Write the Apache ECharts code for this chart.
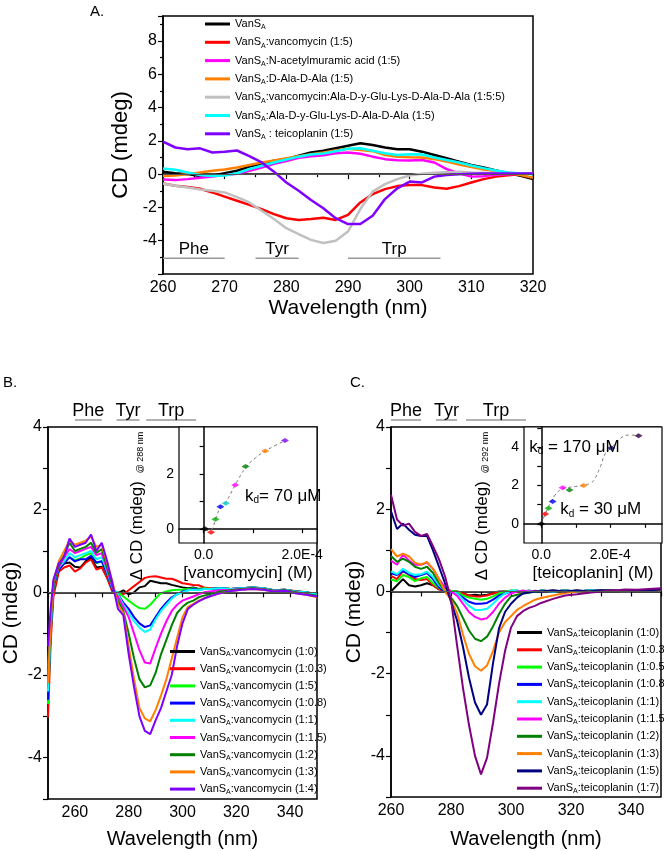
<!DOCTYPE html>
<html><head><meta charset="utf-8">
<script src="https://cdn.jsdelivr.net/npm/echarts@6/dist/echarts.min.js"></script>
<style>html,body{margin:0;padding:0;background:#fff}#c{width:664px;height:851px}</style>
</head><body><div id="c"></div>
<script>
const FONT = '"Liberation Sans", Arial, sans-serif';

// ---------- Panel A ----------
const wlA = [260,262,264,266,268,270,272,274,276,278,280,282,284,286,288,290,292,294,296,298,300,302,304,306,308,310,312,314,316,318,320];
const A_vansa   = [0.14,0.05,0.0,-0.12,-0.1,0.05,0.2,0.45,0.6,0.8,0.9,1.1,1.3,1.4,1.55,1.7,1.85,1.75,1.6,1.5,1.5,1.35,1.15,0.95,0.75,0.55,0.4,0.22,0.05,-0.1,-0.3];
const A_vanco   = [-0.56,-0.7,-0.78,-0.88,-1.1,-1.35,-1.6,-1.85,-2.1,-2.4,-2.65,-2.75,-2.7,-2.62,-2.75,-2.45,-1.7,-1.2,-0.9,-0.72,-0.66,-0.66,-0.8,-0.88,-0.72,-0.5,-0.3,-0.15,-0.07,0.0,0.04];
const A_nam     = [-0.32,-0.36,-0.3,-0.22,-0.14,-0.06,0.02,0.2,0.4,0.62,0.78,0.98,1.08,1.14,1.25,1.3,1.22,1.05,0.9,0.84,0.82,0.85,0.7,0.3,0.05,-0.15,-0.12,-0.04,0.0,0.02,0.04];
const A_dala    = [-0.12,-0.08,0.0,0.1,0.2,0.28,0.4,0.55,0.7,0.82,0.95,1.08,1.2,1.3,1.42,1.52,1.45,1.38,1.15,1.05,1.02,1.0,0.9,0.75,0.58,0.42,0.28,0.18,0.08,-0.05,-0.22];
const A_vancoPep= [-0.56,-0.7,-0.8,-0.92,-1.0,-1.1,-1.38,-1.7,-2.2,-2.7,-3.25,-3.6,-3.95,-4.14,-4.0,-3.45,-2.1,-1.05,-0.6,-0.3,-0.08,0.02,0.08,0.12,0.14,0.1,0.08,0.06,0.04,0.04,0.04];
const A_pep     = [0.34,0.26,0.1,-0.05,-0.12,-0.08,0.05,0.3,0.5,0.7,0.88,1.05,1.18,1.24,1.38,1.52,1.55,1.4,1.25,1.15,1.2,1.18,1.0,0.85,0.7,0.52,0.36,0.22,0.1,0.04,0.0];
const A_teico   = [1.95,1.6,1.5,1.55,1.3,1.35,1.42,1.08,0.7,0.15,-0.5,-1.0,-1.55,-2.05,-2.65,-3.0,-3.0,-2.5,-1.5,-0.85,-0.45,-0.5,-0.15,-0.05,0.0,0.02,0.04,0.04,0.04,0.04,0.04];
const namesA = ['VanS_A','VanS_A:vancomycin (1:5)','VanS_A:N-acetylmuramic acid (1:5)','VanS_A:D-Ala-D-Ala (1:5)','VanS_A:vancomycin:Ala-D-y-Glu-Lys-D-Ala-D-Ala (1:5:5)','VanS_A:Ala-D-y-Glu-Lys-D-Ala-D-Ala (1:5)','VanS_A : teicoplanin (1:5)'];
const colorsA = ['#000000','#ff0000','#ff00ff','#ff8000','#c0c0c0','#00ffff','#8000ff'];
const valuesA = [A_vansa,A_vanco,A_nam,A_dala,A_vancoPep,A_pep,A_teico];

// ---------- Panel B ----------
const wlB = [250,251,252,254,256,258,260,262,264,266,268,270,272,274,276,278,280,282,284,286,288,290,292,294,296,298,300,302,304,306,308,310,314,318,322,326,330,334,338,342,346,350];
const B_r0   = [-2.6,-1.0,0.0,0.55,0.7,0.72,0.62,0.6,0.75,0.85,0.6,0.62,0.35,0.05,-0.02,0.05,-0.05,0.0,0.12,0.15,0.28,0.25,0.22,0.22,0.18,0.15,0.12,0.1,0.12,0.08,0.1,0.08,0.1,0.08,0.1,0.12,0.08,0.05,0.06,0.02,0.0,-0.05];
const B_r03  = [-3.03,-1.2,-0.1,0.5,0.6,0.65,0.5,0.58,0.72,0.8,0.55,0.6,0.35,0.0,-0.05,-0.05,0.05,0.15,0.25,0.35,0.38,0.39,0.36,0.33,0.33,0.28,0.22,0.2,0.18,0.17,0.12,0.1,0.1,0.08,0.1,0.12,0.1,0.05,0.06,0.03,0.0,-0.05];
const B_r05  = [-2.7,-1.0,0.1,0.6,0.75,0.85,0.78,0.82,0.9,0.95,0.7,0.75,0.45,0.05,0.0,-0.1,-0.2,-0.3,-0.38,-0.4,-0.3,-0.15,-0.02,0.02,0.05,0.06,0.06,0.08,0.1,0.08,0.1,0.08,0.1,0.08,0.1,0.12,0.1,0.05,0.06,0.02,0.0,-0.05];
const B_r08  = [-2.6,-0.9,0.15,0.55,0.7,0.85,0.75,0.8,0.8,0.88,0.72,0.75,0.45,0.05,-0.05,-0.25,-0.4,-0.6,-0.75,-0.84,-0.8,-0.6,-0.4,-0.25,-0.12,-0.05,0.02,0.05,0.08,0.06,0.08,0.08,0.1,0.08,0.1,0.12,0.1,0.05,0.06,0.02,0.0,-0.06];
const B_r1   = [-2.4,-0.8,0.2,0.6,0.75,0.95,0.85,0.9,0.95,1.0,0.8,0.85,0.5,0.1,-0.05,-0.3,-0.5,-0.7,-0.85,-0.96,-0.9,-0.65,-0.45,-0.3,-0.15,-0.05,0.0,0.05,0.06,0.05,0.08,0.08,0.1,0.08,0.1,0.12,0.1,0.05,0.06,0.02,0.0,-0.06];
const B_r15  = [-1.8,-0.6,0.25,0.6,0.85,1.05,0.95,1.0,1.05,1.1,0.9,0.95,0.55,0.1,-0.1,-0.35,-0.6,-1.0,-1.4,-1.7,-1.72,-1.35,-1.0,-0.7,-0.45,-0.3,-0.2,-0.15,-0.1,-0.05,0.0,0.02,0.05,0.06,0.08,0.1,0.08,0.04,0.05,0.0,-0.04,-0.1];
const B_r2   = [-2.0,-0.7,0.2,0.65,0.9,1.2,1.0,1.05,1.1,1.2,0.95,1.05,0.6,0.15,-0.2,-0.45,-1.0,-1.6,-2.1,-2.3,-2.25,-1.95,-1.5,-1.15,-0.8,-0.5,-0.35,-0.25,-0.2,-0.12,-0.08,-0.05,0.02,0.05,0.08,0.1,0.08,0.04,0.05,0.0,-0.04,-0.08];
const B_r3   = [-2.2,-0.7,0.25,0.75,1.0,1.25,1.15,1.2,1.25,1.35,1.1,1.15,0.7,0.25,-0.3,-0.5,-1.3,-2.1,-2.8,-3.05,-3.12,-2.85,-2.5,-2.1,-1.6,-1.1,-0.6,-0.35,-0.28,-0.2,-0.15,-0.1,-0.02,0.03,0.06,0.08,0.06,0.02,0.03,-0.02,-0.06,-0.12];
const B_r4   = [-1.3,-0.4,0.3,0.7,0.85,1.3,1.1,1.15,1.2,1.4,1.0,1.2,0.75,0.2,-0.4,-0.55,-1.5,-2.3,-3.0,-3.35,-3.43,-3.1,-2.8,-2.4,-2.0,-1.3,-0.75,-0.4,-0.3,-0.22,-0.15,-0.1,-0.02,0.03,0.06,0.08,0.06,0.02,0.04,-0.02,-0.06,-0.1];
const namesB = ['VanS_A:vancomycin (1:0)','VanS_A:vancomycin (1:0.3)','VanS_A:vancomycin (1:5)','VanS_A:vancomycin (1:0.8)','VanS_A:vancomycin (1:1)','VanS_A:vancomycin (1:1.5)','VanS_A:vancomycin (1:2)','VanS_A:vancomycin (1:3)','VanS_A:vancomycin (1:4)'];
const colorsB = ['#000000','#ff0000','#00ff00','#0000ff','#00ffff','#ff00ff','#008000','#ff8000','#8000ff'];
const valuesB = [B_r0,B_r03,B_r05,B_r08,B_r1,B_r15,B_r2,B_r3,B_r4];

// Inset B
const vancoConc = [0.26e-5,1.5e-5,2.4e-5,3.4e-5,4.5e-5,6.4e-5,8.5e-5,1.25e-4,1.65e-4];
const vancoDCD  = [0.02,-0.11,0.36,0.81,0.94,1.6,2.27,2.83,3.21];
const vancoFitX = [0.3e-5,1.5e-5,2.4e-5,3.4e-5,4.5e-5,6.4e-5,8.5e-5,1.05e-4,1.25e-4,1.45e-4,1.65e-4];
const vancoFitY = [-0.05,-0.02,0.35,0.78,0.98,1.6,2.22,2.58,2.83,3.03,3.2];

// ---------- Panel C ----------
const wlC = [260,262,264,266,268,270,272,274,276,278,280,282,284,286,288,290,292,294,296,298,300,302,304,306,308,310,314,318,322,326,330,334,338,342,346,350];
const C_r0  = [0.0,0.15,0.3,0.15,0.12,0.15,0.2,0.15,0.05,0.02,0.0,0.0,-0.05,-0.1,-0.08,-0.1,-0.08,-0.05,0.0,0.0,0.02,0.0,0.02,0.0,0.0,0.02,0.0,0.02,0.0,0.02,0.03,0.02,0.0,0.02,0.03,0.05];
const C_r03 = [0.38,0.3,0.5,0.4,0.3,0.28,0.3,0.15,0.05,0.02,0.0,0.0,-0.05,-0.1,-0.12,-0.12,-0.1,-0.05,-0.02,0.0,0.02,0.0,0.0,0.02,0.0,0.02,0.0,0.02,0.0,0.02,0.03,0.02,0.0,0.02,0.03,0.05];
const C_r05 = [0.29,0.25,0.4,0.35,0.25,0.32,0.35,0.2,0.08,0.05,0.02,0.0,-0.1,-0.15,-0.18,-0.2,-0.18,-0.12,-0.05,0.0,0.02,0.02,0.0,0.02,0.0,0.02,0.0,0.02,0.0,0.02,0.03,0.02,0.0,0.02,0.03,0.05];
const C_r08 = [0.44,0.4,0.5,0.42,0.35,0.4,0.45,0.3,0.1,0.0,-0.02,-0.05,-0.15,-0.25,-0.3,-0.3,-0.28,-0.2,-0.1,-0.05,0.0,0.02,0.0,0.02,0.0,0.02,0.0,0.02,0.0,0.02,0.03,0.02,0.0,0.02,0.03,0.05];
const C_r1  = [0.49,0.42,0.55,0.45,0.4,0.42,0.48,0.35,0.15,0.02,0.0,-0.05,-0.2,-0.35,-0.45,-0.45,-0.42,-0.3,-0.15,-0.05,0.02,0.02,0.0,0.02,0.0,0.02,0.0,0.02,0.0,0.02,0.03,0.02,0.0,0.02,0.03,0.05];
const C_r15 = [0.75,0.65,0.9,0.75,0.65,0.65,0.7,0.55,0.3,0.1,0.0,-0.1,-0.3,-0.5,-0.62,-0.68,-0.65,-0.5,-0.3,-0.15,-0.05,0.0,0.02,0.0,0.02,0.0,0.02,0.0,0.02,0.0,0.03,0.02,0.0,0.02,0.03,0.05];
const C_r2  = [0.86,0.72,0.8,0.72,0.6,0.55,0.6,0.45,0.2,0.0,-0.15,-0.35,-0.65,-0.95,-1.15,-1.21,-1.1,-0.85,-0.55,-0.3,-0.12,-0.08,-0.05,-0.03,0.0,0.0,0.02,0.0,0.02,0.0,0.03,0.02,0.0,0.02,0.03,0.05];
const C_r3  = [1.03,0.85,0.92,0.85,0.7,0.65,0.72,0.55,0.3,0.0,-0.2,-0.52,-1.05,-1.52,-1.82,-1.93,-1.8,-1.45,-1.0,-0.75,-0.6,-0.45,-0.36,-0.28,-0.2,-0.16,-0.1,-0.04,0.0,0.0,0.02,0.02,0.0,0.02,0.03,0.04];
const C_r5  = [1.95,1.52,1.65,1.5,1.38,1.35,1.35,1.0,0.6,0.2,-0.25,-0.7,-1.35,-2.1,-2.7,-3.0,-2.75,-1.75,-0.9,-0.5,-0.3,-0.15,-0.05,-0.02,0.0,0.0,0.02,0.0,0.02,0.0,0.03,0.02,0.0,0.02,0.03,0.05];
const C_r7  = [2.35,1.75,1.6,1.65,1.45,1.35,1.4,1.1,0.78,0.37,-0.2,-1.3,-2.35,-3.25,-4.0,-4.45,-4.05,-3.2,-2.25,-1.45,-0.88,-0.6,-0.48,-0.4,-0.35,-0.28,-0.18,-0.1,-0.07,-0.03,0.0,0.02,0.05,0.04,0.06,0.08];
const namesC = ['VanS_A:teicoplanin (1:0)','VanS_A:teicoplanin (1:0.3)','VanS_A:teicoplanin (1:0.5)','VanS_A:teicoplanin (1:0.8)','VanS_A:teicoplanin (1:1)','VanS_A:teicoplanin (1:1.5)','VanS_A:teicoplanin (1:2)','VanS_A:teicoplanin (1:3)','VanS_A:teicoplanin (1:5)','VanS_A:teicoplanin (1:7)'];
const colorsC = ['#000000','#ff0000','#00ff00','#0000ff','#00ffff','#ff00ff','#008000','#ff8000','#000080','#800080'];
const valuesC = [C_r0,C_r03,C_r05,C_r08,C_r1,C_r15,C_r2,C_r3,C_r5,C_r7];

// Inset C
const teicoConc = [0,1.16e-5,2.1e-5,3.3e-5,6.2e-5,8.2e-5,1.23e-4,2.03e-4,2.82e-4];
const teicoDCD  = [0,0.51,0.81,1.16,1.88,1.77,2.0,3.96,4.6];
const teicoPtColors = ['#000000','#ff0000','#00aa00','#0000ff','#ff00ff','#008000','#ff8000','#000080','#300040'];
const vancoPtColors = ['#000000','#ff0000','#00aa00','#0000ff','#00cccc','#ff00ff','#008000','#ff8000','#8000ff'];
const teicoFitX = [0,1e-5,2e-5,3e-5,4e-5,5e-5,6e-5,8e-5,1e-4,1.2e-4,1.4e-4,1.52e-4,1.71e-4,1.86e-4,2.03e-4,2.29e-4,2.58e-4,2.82e-4];
const teicoFitY = [0,0.45,0.85,1.2,1.5,1.7,1.82,1.9,1.95,2.0,2.1,2.26,2.96,3.67,3.96,4.46,4.63,4.6];

// Residue region annotations
const regionNames = ['Phe','Tyr','Trp'];
const regionA = [[260,270],[275,282],[290,305]];
const regionB = [[260,270],[275.5,284],[286.5,305]];
const regionC = [[260,270],[275,282],[285,305]];

// ---------- build ----------
const chart = echarts.init(document.getElementById('c'), null, {renderer:'canvas'});
function pre(p, n){ return p + '|' + n; }
function fmt(n){ return n.split('|')[1].replace('_A','{s|A}'); }
function lineSeries(name, g, wl, vals, color, w){
  return {type:'line', name:name, xAxisIndex:g, yAxisIndex:g, data: wl.map((x,i)=>[x, vals[i]]),
    symbol:'none', lineStyle:{color:color, width:w}, itemStyle:{color:color}, z:3, silent:true, animation:false};
}
const series = [];
valuesA.forEach((v,i)=>series.push(lineSeries(pre('A',namesA[i]),0,wlA,v,colorsA[i],2.5)));
valuesB.forEach((v,i)=>series.push(lineSeries(pre('B',namesB[i]),1,wlB,v,colorsB[i],2)));
valuesC.forEach((v,i)=>series.push(lineSeries(pre('C',namesC[i]),3,wlC,v,colorsC[i],2)));
// zero lines
[0,1,3].forEach(g=>{
  series.push({type:'line', xAxisIndex:g, yAxisIndex:g, data:[], silent:true,
    markLine:{silent:true, symbol:'none', label:{show:false}, lineStyle:{color:'#555', width:1, type:'solid'}, data:[{yAxis:0}]}, z:1});
});
// insets
series.push({type:'line', xAxisIndex:2, yAxisIndex:2, smooth:true, symbol:'none', silent:true,
  data: vancoFitX.map((x,i)=>[x, vancoFitY[i]]), lineStyle:{color:'#777', width:1, type:[3,3]}, z:3});
series.push({type:'scatter', xAxisIndex:2, yAxisIndex:2, symbol:'diamond', symbolSize:[8,5], silent:true,
  data: vancoConc.map((x,i)=>({value:[x, vancoDCD[i]], itemStyle:{color:vancoPtColors[i]}})), z:4});
series.push({type:'line', xAxisIndex:4, yAxisIndex:4, smooth:true, symbol:'none', silent:true,
  data: teicoFitX.map((x,i)=>[x, teicoFitY[i]]), lineStyle:{color:'#777', width:1, type:[3,3]}, z:3});
series.push({type:'scatter', xAxisIndex:4, yAxisIndex:4, symbol:'diamond', symbolSize:[8,5], silent:true,
  data: teicoConc.map((x,i)=>({value:[x, teicoDCD[i]], itemStyle:{color:teicoPtColors[i]}})), z:4});

const axLine = {show:true, lineStyle:{color:'#000', width:1.5}};
const tickStyle = {lineStyle:{color:'#000', width:1.2}};
function lbl(size, extra){ return Object.assign({color:'#000', fontFamily:FONT, fontSize:size, margin:6}, extra||{}); }

const xAxes = [
  {gridIndex:0, type:'value', min:260, max:320, interval:10, axisLine:axLine, axisTick:Object.assign({length:5},tickStyle),
   minorTick:{show:true, splitNumber:2, length:3, lineStyle:{color:'#000', width:1.2}},
   axisLabel:lbl(16), splitLine:{show:false},
   name:'Wavelength (nm)', nameLocation:'middle', nameGap:24, nameTextStyle:{fontFamily:FONT, fontSize:21, color:'#000'}},
  {gridIndex:1, type:'value', min:250, max:350, interval:10, axisLine:axLine, axisTick:Object.assign({length:5},tickStyle),
   axisLabel:lbl(16,{formatter:v=> (v%20===0 && v>250 && v<350) ? String(v) : ''}), splitLine:{show:false},
   name:'Wavelength (nm)', nameLocation:'middle', nameGap:30, nameTextStyle:{fontFamily:FONT, fontSize:20, color:'#000'}},
  {gridIndex:2, type:'value', min:-5e-5, max:2.3e-4, axisLine:axLine,
   axisTick:Object.assign({length:4, customValues:[0,1e-4,2e-4]},tickStyle),
   axisLabel:lbl(14,{customValues:[0,2e-4], formatter:v=> v===0 ? '0.0' : '2.0E-4', margin:5}), splitLine:{show:false},
   name:'[vancomycin] (M)', nameLocation:'middle', nameGap:22, nameTextStyle:{fontFamily:FONT, fontSize:17, color:'#000'}},
  {gridIndex:3, type:'value', min:260, max:350, interval:10, axisLine:axLine, axisTick:Object.assign({length:5},tickStyle),
   axisLabel:lbl(16,{formatter:v=> (v%20===0 && v<350) ? String(v) : ''}), splitLine:{show:false},
   name:'Wavelength (nm)', nameLocation:'middle', nameGap:32, nameTextStyle:{fontFamily:FONT, fontSize:20, color:'#000'}},
  {gridIndex:4, type:'value', min:-5e-5, max:3.5e-4, axisLine:axLine,
   axisTick:Object.assign({length:4, customValues:[0,1e-4,2e-4,3e-4]},tickStyle),
   axisLabel:lbl(14,{customValues:[0,2e-4], formatter:v=> v===0 ? '0.0' : '2.0E-4', margin:5}), splitLine:{show:false},
   name:'[teicoplanin] (M)', nameLocation:'middle', nameGap:22, nameTextStyle:{fontFamily:FONT, fontSize:17, color:'#000'}}
];
const yAxes = [
  {gridIndex:0, type:'value', min:-6, max:9.5, interval:2, axisLine:axLine, axisTick:Object.assign({length:5},tickStyle),
   minorTick:{show:true, splitNumber:2, length:3, lineStyle:{color:'#000', width:1.2}},
   axisLabel:lbl(16,{formatter:v=> (v%2===0 && v>-6 && v<9) ? String(v) : ''}), splitLine:{show:false},
   name:'CD (mdeg)', nameLocation:'middle', nameGap:30, nameTextStyle:{fontFamily:FONT, fontSize:22, color:'#000'}},
  {gridIndex:1, type:'value', min:-5, max:4, interval:1, axisLine:axLine, axisTick:Object.assign({length:5},tickStyle),
   axisLabel:lbl(16,{formatter:v=> (v%2===0) ? String(v) : ''}), splitLine:{show:false},
   name:'CD (mdeg)', nameLocation:'middle', nameGap:26, nameTextStyle:{fontFamily:FONT, fontSize:21, color:'#000'}},
  {gridIndex:2, type:'value', min:-0.5, max:3.7, axisLine:axLine,
   axisTick:Object.assign({length:4, customValues:[0,1,2,3]},tickStyle),
   axisLabel:lbl(14,{customValues:[0,2], margin:5}), splitLine:{show:false}},
  {gridIndex:3, type:'value', min:-5, max:4, interval:1, axisLine:axLine, axisTick:Object.assign({length:5},tickStyle),
   axisLabel:lbl(16,{formatter:v=> (v%2===0) ? String(v) : ''}), splitLine:{show:false},
   name:'CD (mdeg)', nameLocation:'middle', nameGap:26, nameTextStyle:{fontFamily:FONT, fontSize:21, color:'#000'}},
  {gridIndex:4, type:'value', min:-1, max:5.05, axisLine:axLine,
   axisTick:Object.assign({length:4, customValues:[0,1,2,3,4,5]},tickStyle),
   axisLabel:lbl(14,{customValues:[0,2,4], margin:5}), splitLine:{show:false}}
];

function legendCfg(names, p, left, top, lh, gap){
  return {data:names.map(n=>pre(p,n)), orient:'vertical', left:left, top:top, itemWidth:25, itemHeight:3,
    itemGap:gap, icon:'rect', selectedMode:false, padding:0, formatter:fmt,
    textStyle:{fontFamily:FONT, fontSize:11, color:'#000', lineHeight:lh,
      rich:{s:{fontFamily:FONT, fontSize:7, lineHeight:lh, verticalAlign:'bottom', color:'#000'}}}};
}

const option = {
  animation:false,
  backgroundColor:'#fff',
  grid:[
    {left:163, top:16, width:370, height:258, show:true, borderColor:'#000', borderWidth:1.5, backgroundColor:'transparent'},
    {left:46, top:427, width:271, height:372, show:true, borderColor:'#000', borderWidth:1.5, backgroundColor:'transparent'},
    {left:179, top:427, width:138, height:116, show:true, borderColor:'#000', borderWidth:1.2, backgroundColor:'#fff'},
    {left:391, top:427, width:271, height:370, show:true, borderColor:'#000', borderWidth:1.5, backgroundColor:'transparent'},
    {left:524, top:427, width:138, height:116, show:true, borderColor:'#000', borderWidth:1.2, backgroundColor:'#fff'}
  ],
  xAxis:xAxes, yAxis:yAxes,
  legend:[
    legendCfg(namesA,'A',205,17,14,4.3),
    legendCfg(namesB,'B',170,645,13,4.2),
    legendCfg(namesC,'C',517,626,13,4.3)
  ],
  series:series
};
chart.setOption(option);

// ---------- annotations ----------
function px(g, pt){ return chart.convertToPixel({xAxisIndex:g, yAxisIndex:g}, pt); }
const gfx = [];
function panelLetter(t, x, y){ gfx.push({type:'text', x:x, y:y, style:{text:t, font:'15px '+FONT, fill:'#000'}}); }
panelLetter('A.', 90, 4); panelLetter('B.', 3, 375); panelLetter('C.', 350, 375);

function regions(g, ranges, yLine, yOffText, size){
  ranges.forEach((r,i)=>{
    const p1 = px(g,[r[0], yLine]), p2 = px(g,[r[1], yLine]);
    gfx.push({type:'line', shape:{x1:p1[0], y1:p1[1], x2:p2[0], y2:p2[1]}, style:{stroke:'#999', lineWidth:1.5}, z:10});
    gfx.push({type:'text', x:(p1[0]+p2[0])/2, y:p1[1]-yOffText, style:{text:regionNames[i], font:size+'px '+FONT, fill:'#000', align:'center', verticalAlign:'bottom'}, z:10});
  });
}
regions(0, regionA, -5.06, 1, 17);
regions(1, regionB, 4.17, 0, 18);
regions(3, regionC, 4.17, 0, 18);

function insetYName(g, xv, sub){
  const p = px(g,[xv, 1.6]);
  gfx.push({type:'text', x:p[0]-42, y:506, rotation:Math.PI/2,
    style:{text:'Δ CD (mdeg) {s|'+sub+'}', font:'17px '+FONT, fill:'#000', align:'center', verticalAlign:'middle',
      rich:{s:{font:'9px '+FONT, fill:'#000', verticalAlign:'bottom', padding:[8,0,0,3]}}}, z:10});
}
insetYName(2, -5e-5, '@ 288 nm');
insetYName(4, -5e-5, '@ 292 nm');

function kd(g, pt, txt){
  const p = px(g, pt);
  gfx.push({type:'text', x:p[0], y:p[1], style:{text:txt, font:'17px '+FONT, fill:'#000', align:'left', verticalAlign:'middle',
    rich:{d:{font:'10px '+FONT, fill:'#000', verticalAlign:'bottom', padding:[9,0,0,0]}}}, z:10});
}
kd(2, [8.4e-5, 1.2], 'k{d|d}= 70 μM');
kd(4, [-3.5e-5, 4.0], 'k{d|d} = 170 μM');
kd(4, [5.5e-5, 0.74], 'k{d|d} = 30 μM');

chart.setOption({graphic:gfx});
</script></body></html>
